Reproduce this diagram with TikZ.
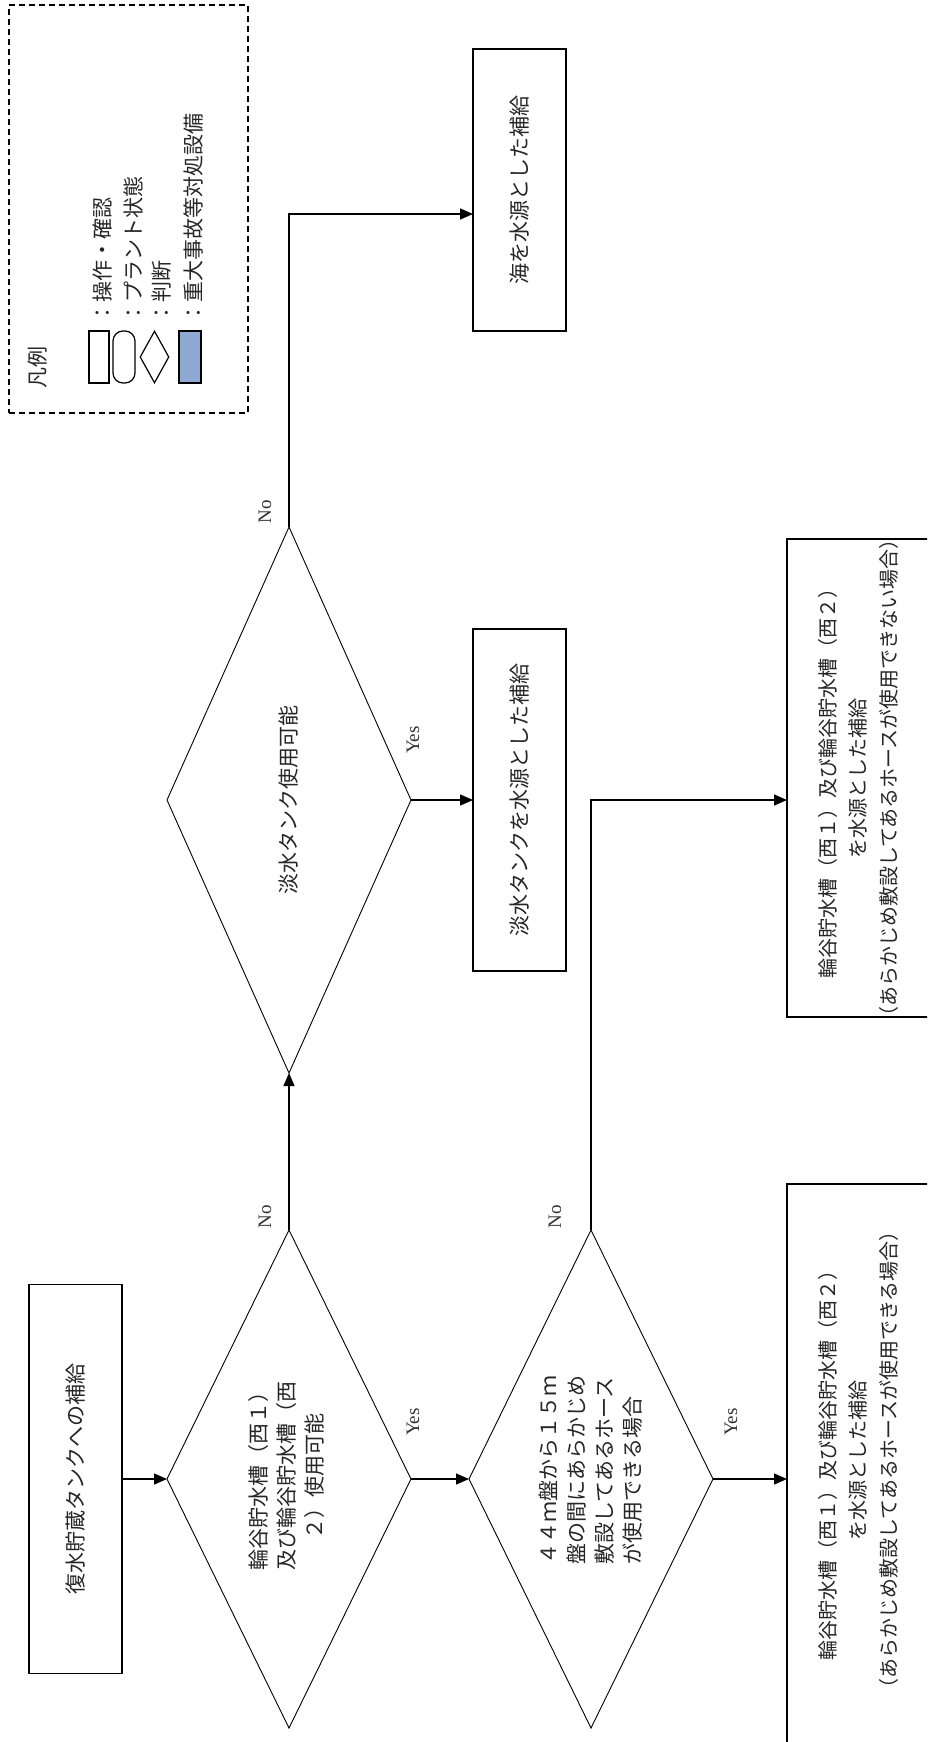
\documentclass[tikz,border=0pt]{standalone}
\usepackage{fontspec}
\newfontfamily\jp{Noto Sans CJK JP}
\newfontfamily\lat{Liberation Serif}
\usetikzlibrary{shapes.geometric,arrows.meta,calc}
\definecolor{legblue}{RGB}{143,170,210}
\begin{document}
\begin{tikzpicture}[x=1pt,y=-1pt,
  box/.style={draw, line width=1.4pt, inner sep=0pt, outer sep=0pt},
  dia/.style={draw, diamond, line width=0.9pt, inner sep=0pt, outer sep=0pt, minimum width=244pt},
  txt/.style={rotate=90, font=\jp\fontsize{21}{28}\selectfont, align=center, text=black!85, inner sep=0pt},
  lg/.style={rotate=90, font=\jp\fontsize{21}{21}\selectfont, text=black!85, inner sep=0pt},
  yn/.style={rotate=90, font=\lat\fontsize{19}{19}\selectfont, inner sep=0pt, text=black!80},
  conn/.style={line width=1.4pt, -{Triangle[length=13pt,width=11pt]}},
  ]
\useasboundingbox (0,0) rectangle (927,1742);
\clip (0,0) rectangle (927,1742);
\fill[white] (0,0) rectangle (927,1742);

% legend
\node[draw, line width=1.3pt, dash pattern=on 6pt off 4pt, minimum width=239pt, minimum height=408pt, inner sep=0pt] (legend) at (128.5,209) {};
\node[lg] (lgtitle) at (38,367) {凡例};
\node[draw, line width=1.2pt, minimum width=20pt, minimum height=52pt, inner sep=0pt] (lgrect) at (99,357) {};
\node[draw, line width=1.2pt, rounded corners=10pt, minimum width=22pt, minimum height=52pt, inner sep=0pt] (lground) at (124,357) {};
\node[draw, diamond, line width=1.2pt, minimum width=29pt, minimum height=52pt, inner sep=0pt] (lgdia) at (154.5,357) {};
\node[draw, line width=1.8pt, fill=legblue, minimum width=22pt, minimum height=52pt, inner sep=0pt] (lgblue) at (190,357) {};
\node[lg, anchor=west] (lt1) at (103,324) {：操作・確認};
\node[lg, anchor=west] (lt2) at (133,324) {：プラント状態};
\node[lg, anchor=west] (lt3) at (162,324) {：判断};
\node[lg, anchor=west] (lt4) at (193,324) {：重大事故等対処設備};

% shapes
\node[box, minimum width=93pt, minimum height=389pt] (start) at (75.5,1479) {};
\node[dia, minimum height=498pt] (d1) at (289,1479) {};
\node[dia, minimum height=498pt] (d2) at (591,1479) {};
\node[dia, minimum height=546pt] (d3) at (289,800) {};
\node[box, minimum width=93pt, minimum height=342pt] (tan) at (519.5,800) {};
\node[box, minimum width=93pt, minimum height=282pt] (umi) at (519.5,190) {};
\node[box, minimum width=143pt, minimum height=478pt] (b4) at (858.5,778) {};
\node[box, minimum width=143pt, minimum height=590pt] (b5) at (858.5,1479) {};
\coordinate (umiin) at ($(umi.west)+(0,24)$);

% texts
\node[txt] (tstart) at (start) {復水貯蔵タンクへの補給};
\node[txt] (td1) at (287,1476) {輪谷貯水槽（西１）\\及び輪谷貯水槽（西\\２）使用可能};
\node[txt, align=left] (td2) at (591,1470) {４４ｍ盤から１５ｍ\\盤の間にあらかじめ\\敷設してあるホース\\が使用できる場合};
\node[txt] (td3) at (d3) {淡水タンク使用可能};
\node[txt] (ttan) at (tan) {淡水タンクを水源とした補給};
\node[txt] (tumi) at (umi) {海を水源とした補給};
\node[txt, font=\jp\fontsize{20}{30.5}\selectfont] (tb4) at (858,778) {輪谷貯水槽（西１）及び輪谷貯水槽（西２）\\を水源とした補給\\（あらかじめ敷設してあるホースが使用できない場合）};
\node[txt, font=\jp\fontsize{20}{30.5}\selectfont] (tb5) at (858,1460) {輪谷貯水槽（西１）及び輪谷貯水槽（西２）\\を水源とした補給\\（あらかじめ敷設してあるホースが使用できる場合）};

% connectors
\draw[conn] (start.east) -- (d1.west);
\draw[conn] (d1.east) -- (d2.west);
\draw[conn] (d1.north) -- (d3.south);
\draw[conn] (d3.east) -- (tan.west);
\draw[conn] (d3.north) |- (umiin);
\draw[conn] (d2.north) |- (b4.west |- d3.east);
\draw[conn] (d2.east) -- (b5.west);

% labels
\node[yn] (lno1) at ($(d1.north)+(-24,-13)$) {No};
\node[yn] (lyes1) at ($(d1.east)+(2,-57)$) {Yes};
\node[yn] (lno2) at ($(d2.north)+(-36,-13)$) {No};
\node[yn] (lyes2) at ($(d2.east)+(18,-57)$) {Yes};
\node[yn] (lno3) at ($(d3.north)+(-24,-15)$) {No};
\node[yn] (lyes3) at ($(d3.east)+(2,-60)$) {Yes};
\end{tikzpicture}
\end{document}
